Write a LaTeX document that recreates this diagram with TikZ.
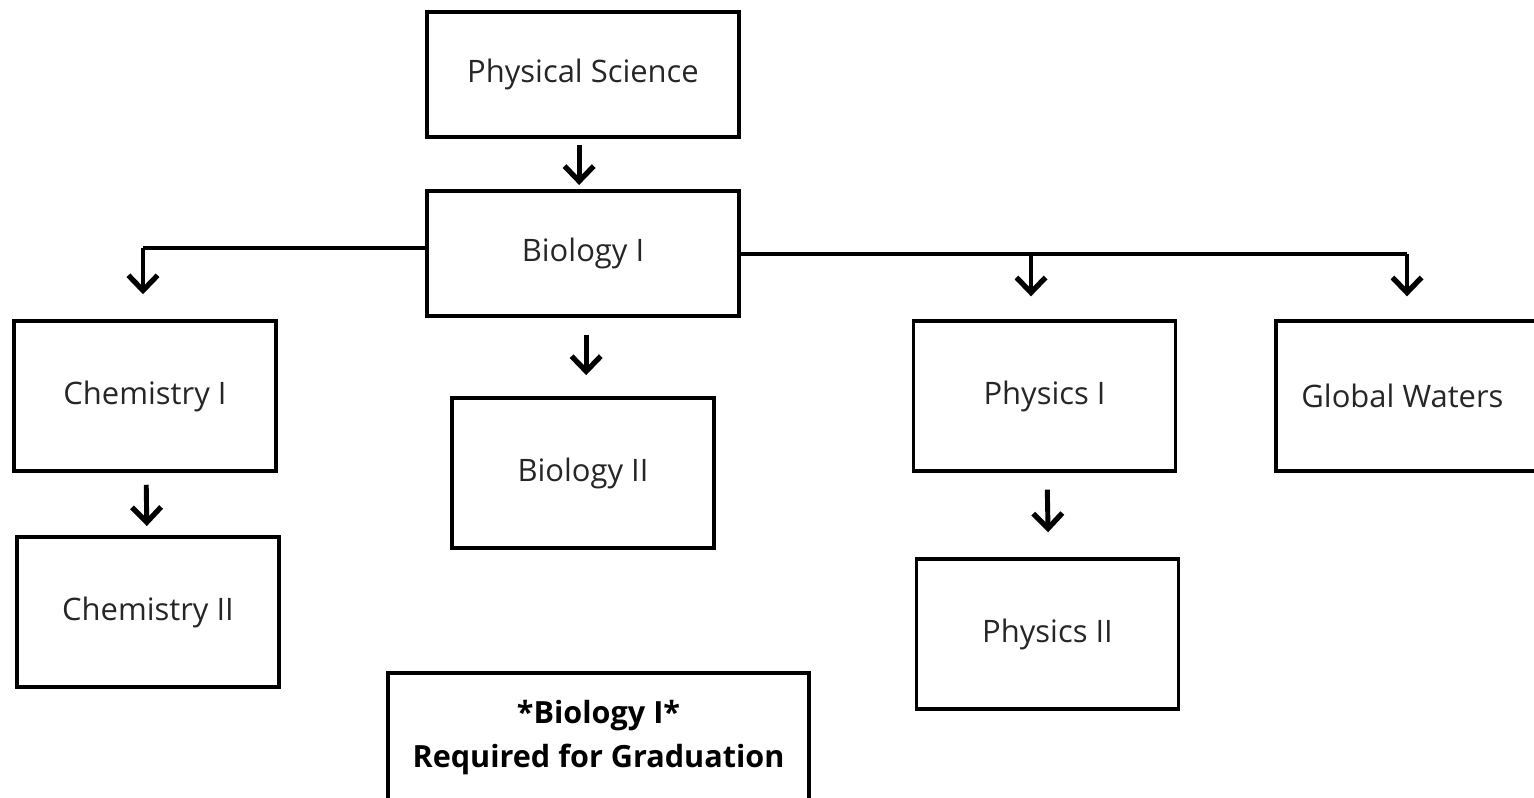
\documentclass[tikz,border=0pt]{standalone}
\usepackage{fontspec}
\setmainfont{Open Sans}
\usetikzlibrary{arrows.meta}

\begin{document}
\begin{tikzpicture}[x = 0.01cm, y = -0.01cm,
        course/.style = {draw, line width = 1pt, minimum width = 2.62cm,
          minimum height = 1.5cm, inner sep = 0pt, text = black!85,
          font = \fontsize{8.8}{10}\selectfont},
        arr/.style = {line width = 1.4pt,
          -{Straight Barb[length = 4.3pt, width = 8.3pt, line width = 1.5pt]}}]
        \useasboundingbox (0,0) rectangle (1534,797);
        % top row
        \node [course, minimum width = 3.12cm, minimum height = 1.25cm] (phys) at (583,74.5) {Physical Science};
        \node [course, minimum width = 3.12cm, minimum height = 1.25cm] (bio1) at (583,253.5) {Biology I};
        % second row
        \node [course] (chem1) at (145,396) {Chemistry I};
        \node [course] (bio2) at (583,473) {Biology II};
        \node [course] (phy1) at (1044.5,396) {Physics I};
        \node [course] (glob) at (1407,396) {\hspace*{-2.6pt}Global Waters};
        % third row
        \node [course] (chem2) at (148,612) {Chemistry II};
        \node [course] (phy2) at (1047.5,634) {Physics II};
        \node [draw, line width = 1pt, minimum width = 4.21cm, minimum height = 1.3cm,
          inner sep = 0pt, align = center, font = \fontsize{8.7}{12.5}\selectfont\bfseries]
          (note) at (598.5,738) {*Biology I*\\Required for Graduation};
        % arrows
        \draw [arr, shorten < = 1.7pt, shorten > = 1.2pt] ([xshift = -1.1pt]phys.south) -- ([xshift = -1.1pt]bio1.north);
        \draw [arr, shorten < = 4.8pt, shorten > = 6pt] ([xshift = 0.9pt]bio1.south) -- ([xshift = 0.9pt]bio2.north);
        \draw [arr, shorten < = 3.4pt, shorten > = 2.6pt] (chem1) -- (chem2);
        \draw [arr, shorten < = 4.8pt, shorten > = 7.1pt] ([xshift = 0.7pt]phy1.south) -- ([xshift = 0.3pt]phy2.north);
        \coordinate (lft) at (143,248);
        \coordinate (rgt) at (1407,254);
        \coordinate (mid) at (1031,254);
        \draw [line width = 0.9pt] (bio1.west |- lft) -- (lft);
        \draw [arr, shorten > = 7.1pt] (lft) -- (lft |- chem1.north);
        \draw [line width = 0.9pt] (bio1.east |- rgt) -- (rgt);
        \draw [arr, shorten > = 6.5pt] (rgt) -- (glob.north);
        \draw [arr, shorten > = 6.5pt] (mid) -- (mid |- phy1.north);
\end{tikzpicture}
\end{document}
